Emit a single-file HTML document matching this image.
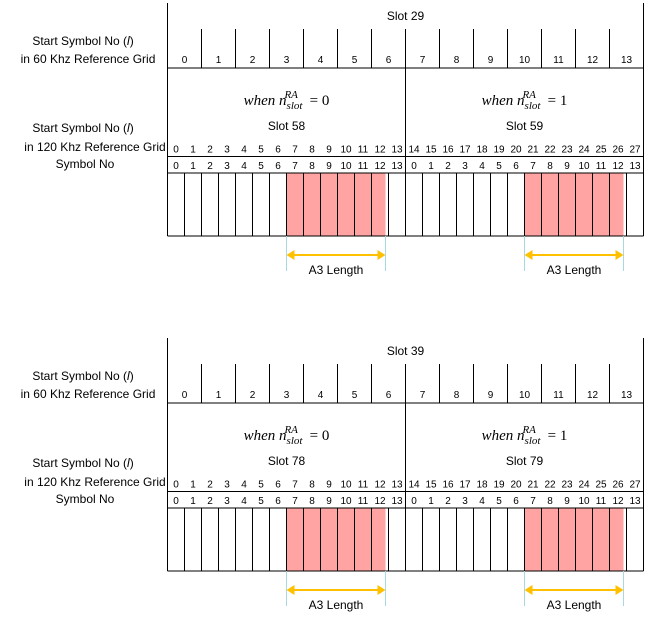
<!DOCTYPE html>
<html><head><meta charset="utf-8">
<style>
html,body{margin:0;padding:0;background:#fff;}
svg{display:block;font-family:"Liberation Sans",Verdana,sans-serif;}
.lbl{font-size:12px;fill:#000;}
.num{font-size:10px;fill:#000;}
.math{font-family:"Liberation Serif",serif;font-style:italic;font-size:15px;}
</style></head>
<body>
<svg id="c" width="657" height="617" viewBox="0 0 657 617"></svg>
<script>
const slot60 = [29, 39];
const slotA = [58, 78];
const slotB = [59, 79];
const blockTops = [3, 338];
const raStart = [7, 7];
const raLen = [6, 6];
const NS = 'http://www.w3.org/2000/svg';
const svg = document.getElementById('c');
function mk(tag, attrs, parent, name){
  const e = document.createElementNS(NS, tag);
  for (const k in attrs) e.setAttribute(k, attrs[k]);
  
  
  (parent||svg).appendChild(e);
  return e;
}
function line(g,x1,y1,x2,y2,name,stroke,w){
  return mk('line',{x1,y1,x2,y2,stroke:stroke||'#000','stroke-width':w||1},g,name);
}
function text(g,x,y,s,cls,name,anchor){
  const t = mk('text',{x,y,class:cls,'text-anchor':anchor||'middle'},g,name);
  t.textContent = s; return t;
}
const L = 167.5, R = 643.5, W = R - L;
blockTops.forEach((top, b) => {
  const g = mk('g', {}, svg, 'diagram-block-' + (b+1));
  const y1 = top + 26, y2 = top + 65, y3 = top + 153.5, y4 = top + 170, y5 = top + 233;
  // left labels
  text(g, 83, top+42, 'Start Symbol No (', 'lbl', 'label-start-60').innerHTML = 'Start Symbol No (<tspan font-style="italic">l</tspan>)';
  text(g, 88, top+60, 'in 60 Khz Reference Grid', 'lbl', 'label-60khz-grid');
  text(g, 83, top+129, '', 'lbl', 'label-start-120').innerHTML = 'Start Symbol No (<tspan font-style="italic">l</tspan>)';
  text(g, 95, top+148, 'in 120 Khz Reference Grid', 'lbl', 'label-120khz-grid');
  text(g, 85, top+165, 'Symbol No', 'lbl', 'label-symbol-no');
  // pink regions
  const cw = W / 28;
  for (let h = 0; h < 2; h++) {
    const x0 = L + (h*14 + raStart[b]) * cw;
    mk('rect', {x: x0, y: y4, width: raLen[b]*cw - 3, height: y5 - y4, fill: '#ffa3a3'}, g, 'ra-region-' + (h+1));
  }
  // frame
  line(g, L, top, L, y5, 'left-border');
  line(g, R, top, R, y5, 'right-border');
  line(g, L, y2, R, y2, 'grid-line-60');
  line(g, L, y3, R, y3, 'grid-line-120');
  line(g, L, y4, R, y4, 'grid-line-symbol');
  line(g, L, y5, R, y5, 'bottom-border');
  line(g, L + W/2, y2, L + W/2, y5, 'slot-divider');
  text(g, L + W/2, top + 17, 'Slot ' + slot60[b], 'lbl', 'slot-60-title');
  const c60 = W / 14;
  for (let i = 0; i < 14; i++) {
    if (i > 0) line(g, L + i*c60, y1, L + i*c60, y2, 'cell-60-divider');
    text(g, L + (i+0.5)*c60, y2 - 5, String(i), 'num', 'symbol-60-' + i);
  }
  for (let i = 0; i < 28; i++) {
    if (i > 0 && i != 14) line(g, L + i*cw, y4, L + i*cw, y5, 'symbol-cell-divider');
    text(g, L + (i+0.5)*cw, y3 - 4, String(i), 'num', 'symbol-120-' + i);
    text(g, L + (i+0.5)*cw, y4 - 4, String(i % 14), 'num', 'symbol-no-' + i);
  }
  // headers
  const hs = [slotA[b], slotB[b]];
  for (let h = 0; h < 2; h++) {
    const cx = L + W/4 + h*W/2;
    const t = text(g, cx, top + 102, '', 'math', 'when-n-slot-' + h);
    t.innerHTML = 'when n<tspan dy="4" font-size="11">slot</tspan><tspan dx="-18" dy="-11" font-size="11">RA</tspan><tspan dy="7" dx="8" font-style="normal"> = ' + h + '</tspan>';
    text(g, cx, top + 127, 'Slot ' + hs[h], 'lbl', 'slot-120-title-' + h);
    // arrow
    const xa = L + (h*14 + raStart[b]) * cw, xb = xa + raLen[b]*cw - 3;
    line(g, xa, y5, xa, y5 + 35, 'a3-bound-left', '#a8d8e0');
    line(g, xb, y5, xb, y5 + 35, 'a3-bound-right', '#a8d8e0');
    const ay = y5 + 19;
    line(g, xa + 6, ay, xb - 6, ay, 'a3-arrow', '#ffc000', 2);
    mk('polygon', {points: `${xa},${ay} ${xa+8},${ay-5} ${xa+8},${ay+5}`, fill: '#ffc000'}, g, 'a3-arrow-head-left');
    mk('polygon', {points: `${xb},${ay} ${xb-8},${ay-5} ${xb-8},${ay+5}`, fill: '#ffc000'}, g, 'a3-arrow-head-right');
    text(g, (xa+xb)/2, y5 + 38, 'A3 Length', 'lbl', 'a3-length-label');
  }
});
</script>
</body></html>
